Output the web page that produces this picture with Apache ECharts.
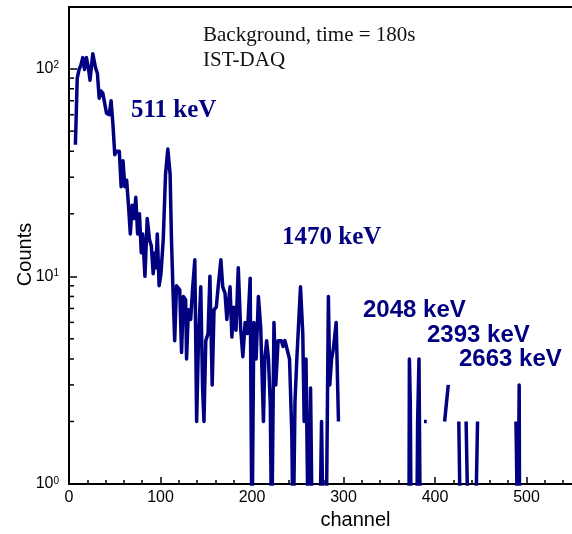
<!DOCTYPE html>
<html>
<head>
<meta charset="utf-8">
<script src="https://cdn.jsdelivr.net/npm/echarts@6/dist/echarts.min.js"></script>
<style>
  html, body { margin: 0; padding: 0; background: #fff; }
  #chart { width: 572px; height: 534px; }
</style>
</head>
<body>
<div id="chart"></div>
<script>
// spectrum: channel -> counts (0 = empty channel, null = gap in the trace)
const channels = [
  7, 9, 11, 13, 15, 17, 19, 21, 23, 26, 29, 31, 33, 35, 37, 39, 41, 44, 46, 48,
  50, 52, 55, 57, 59, 61, 63, 65, 67, 69, 71, 73, 75, 77, 79, 80.5, 83, 85.5, 88, 90,
  92, 94, 95, 96.5, 98.5, 100.5, 103, 105.5, 108, 110.5, 112, 113.5, 115.5, 117.5, 119.5, 121, 123, 125, 127.5, 128.5,
  130.5, 133, 135, 137.5, 139.5, 141.5, 144, 146, 147.5, 149.5, 152, 154, 156.5, 158.5, 161, 163, 166, 168, 170.5, 172.5,
  176, 178, 180, 182.5, 185, 187.5, 190, 192.5, 195, 198, 200, 202, 204.5, 207, 209.5, 212.5, 214, 216, 218, 220,
  221.5, 224, 226, 228.5, 230.5, 232, 234, 236, 238, 241, 243.5, 245, 247, 249, 251, 253, 255.5, 257, 259, 261.5,
  264, 266, 274, 276, 278, 281, 283.5, 285, 287, 289, 292, 294.5, 296,
  371.5, 372, 373, 374, 380, 381, 382.5, 384, 385,
  388, 391, 392,
  410.5, 412, 414.5, 415,
  426, 428, 429,
  434, 436.5, 444, 446.5, 447,
  488.5, 489.5, 490.5, 492, 492.5
];
const counts = [
  43, 90, 99, 104, 113, 99, 113, 102, 88, 118, 101, 95, 72, 78, 76, 75, 61, 60, 70, 54,
  38.5, 40, 40, 27, 36, 27, 29, 22, 16, 22, 19, 24, 16, 20, 13, 16, 10, 19, 15, 14,
  10.3, 13, 11, 16, 9, 10.3, 15, 31, 41, 31, 15, 9, 4.9, 9, 9, 8.6, 4.3, 8, 7.7, 4,
  6.9, 6.2, 8.6, 12, 2, 4.9, 8.9, 2.9, 2, 4.9, 5.3, 10, 3, 6.9, 7.1, 8.9, 12, 8.9, 8.3, 6.2,
  8.9, 5.1, 7.1, 5.5, 11, 5.7, 4.1, 6, 5.3, 9.8, 0, 6, 4, 8, 5.7, 2, 4, 4.9, 4, 2.4,
  0, 6, 3, 4.9, 4.9, 4.9, 4.6, 4.9, 4.9, 4, 1.75, 0, 2.5, 4, 4, 8.9, 5.3, 2, 4, 0,
  2.9, 0, 0, 2, 0, 0, 8, 3, 4, 4.5, 6, 2, null,
  0, 4, 2.5, 0, 0, 2, 4, 0, null,
  2, 2, null,
  2, 2, 3, null,
  2, 0, null,
  2, 0, 0, 2, null,
  2, 2, 0, 3, 0
];
const yMinorTicks = [2, 3, 4, 5, 6, 7, 8, 9, 20, 30, 40, 50, 60, 70, 80, 90];

const peakLabels = ['511 keV', '1470 keV', '2048 keV', '2393 keV', '2663 keV'];
const infoLines = ['Background, time = 180s', 'IST-DAQ'];

const NAVY = '#000080';
const SANS = '"Liberation Sans", Arial, sans-serif';
const SERIF = '"Liberation Serif", "Times New Roman", serif';

// log axis can't show 0, so empty channels are pushed below the axis and clipped
const spectrum = channels.map((c, i) => [c, counts[i] === 0 ? 0.5 : counts[i]]);

const chart = echarts.init(document.getElementById('chart'), null, { renderer: 'canvas' });

chart.setOption({
  animation: false,
  backgroundColor: '#fff',
  // plot runs past the right edge of the picture (cropped like the original)
  grid: { left: 69, width: 549, top: 7, bottom: 50, containLabel: false, outerBoundsMode: 'none' },
  xAxis: [{
    type: 'value',
    min: 0,
    max: 600,
    interval: 100,
    name: 'channel',
    nameLocation: 'middle',
    nameGap: 26,
    nameTextStyle: { fontFamily: SANS, fontSize: 20, color: '#000', padding: [0, 0, 0, 24] },
    axisLine: { lineStyle: { color: '#000', width: 2 } },
    axisTick: { inside: true, length: 7, lineStyle: { color: '#000', width: 1.5 } },
    minorTick: { show: true, splitNumber: 5, length: 4, lineStyle: { color: '#000', width: 1.5 } },
    splitLine: { show: false },
    axisLabel: { fontFamily: SANS, fontSize: 16, color: '#000', margin: 6 }
  }, {
    // top frame line
    type: 'value',
    position: 'top',
    min: 0,
    max: 600,
    axisLine: { show: true, lineStyle: { color: '#000', width: 2 } },
    axisTick: { show: false },
    axisLabel: { show: false },
    splitLine: { show: false }
  }],
  yAxis: {
    type: 'log',
    logBase: 10,
    min: 1,
    max: 198,
    name: 'Counts',
    nameLocation: 'middle',
    nameGap: 34,
    nameMoveOverlap: false,
    nameTextStyle: { fontFamily: SANS, fontSize: 20, color: '#000', padding: [0, 18, 0, 0] },
    axisLine: { show: true, lineStyle: { color: '#000', width: 2 } },
    axisTick: { inside: true, length: 8, lineStyle: { color: '#000', width: 1.5 } },
    splitLine: { show: false },
    axisLabel: {
      showMaxLabel: false,
      margin: 10,
      formatter: v => {
        const e = Math.log10(v);
        if (Math.abs(e - Math.round(e)) > 1e-6) return '';
        return '{b|10}{s|' + Math.round(e) + '}';
      },
      rich: {
        b: { fontFamily: SANS, fontSize: 16, color: '#000' },
        s: { fontFamily: SANS, fontSize: 10, color: '#000', verticalAlign: 'top' }
      }
    }
  },
  series: [{
    type: 'line',
    data: spectrum,
    showSymbol: false,
    connectNulls: false,
    clip: true,
    lineStyle: { color: NAVY, width: 3.5, join: 'round' },
    z: 3
  }, {
    // minor ticks of the log axis (2..9 per decade)
    type: 'custom',
    silent: true,
    data: yMinorTicks.map(v => [0, v]),
    renderItem: (params, api) => {
      const p = api.coord([api.value(0), api.value(1)]);
      return {
        type: 'line',
        shape: { x1: p[0], y1: p[1], x2: p[0] + 5, y2: p[1] },
        style: { stroke: '#000', lineWidth: 1.5 }
      };
    },
    z: 4
  }],
  graphic: [
    { type: 'text', left: 203, top: 25, style: { text: infoLines[0], font: '21px ' + SERIF, fill: '#111' } },
    { type: 'text', left: 203, top: 50, style: { text: infoLines[1], font: '21px ' + SERIF, fill: '#111' } },
    { type: 'text', left: 131, top: 98, style: { text: peakLabels[0], font: 'bold 25px ' + SERIF, fill: NAVY } },
    { type: 'text', left: 282, top: 225, style: { text: peakLabels[1], font: 'bold 25px ' + SERIF, fill: NAVY } },
    { type: 'text', left: 363, top: 298, style: { text: peakLabels[2], font: 'bold 24px ' + SANS, fill: NAVY } },
    { type: 'text', left: 427, top: 323, style: { text: peakLabels[3], font: 'bold 24px ' + SANS, fill: NAVY } },
    { type: 'text', left: 459, top: 347, style: { text: peakLabels[4], font: 'bold 24px ' + SANS, fill: NAVY } }
  ]
});
</script>
</body>
</html>
